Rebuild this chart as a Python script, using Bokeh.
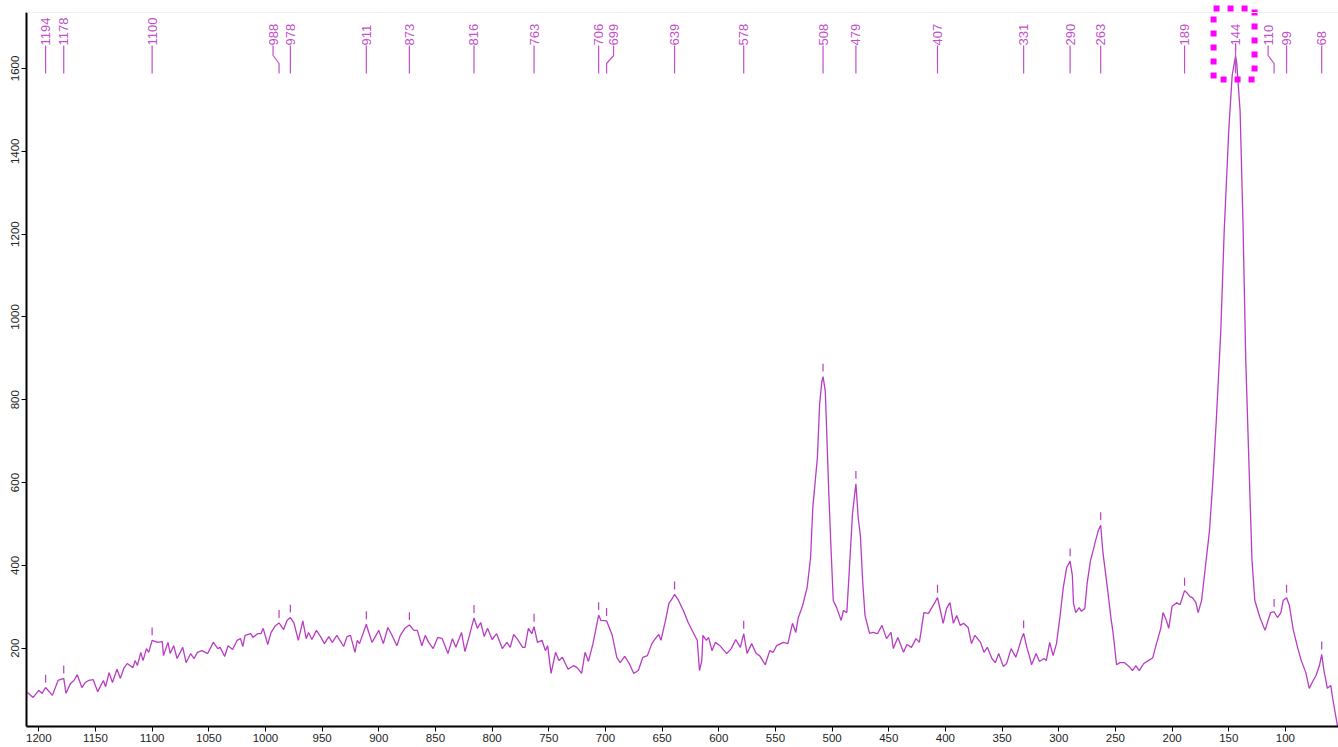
import numpy as np
from bokeh.plotting import figure
from bokeh.models import Range1d, FixedTicker, ColumnDataSource, Span
from bokeh.core.properties import value
from bokeh.embed import file_html
from bokeh.resources import INLINE

# Raman shift (cm-1) and intensity of the measured spectrum
shift = [
    1210, 1205, 1200, 1197, 1194, 1188, 1183, 1178, 1176, 1172, 1169, 1166, 1162, 1159, 1156, 1152,
    1148, 1143, 1141, 1138, 1135, 1131, 1128, 1125, 1122, 1117, 1115, 1113, 1110, 1108, 1105, 1103,
    1100, 1095, 1091, 1090, 1086, 1084, 1081, 1078, 1073, 1070, 1066, 1063, 1060, 1056, 1051, 1046,
    1042, 1040, 1036, 1033, 1029, 1025, 1022, 1020, 1018, 1013, 1011, 1007, 1004, 1002, 998, 995,
    991, 988, 984, 981, 978, 975, 971, 967, 964,
    962, 959, 955, 951, 948, 944, 941, 937, 931, 928, 925, 921, 919, 917, 911, 910, 906, 900, 896,
    892, 889, 884, 881, 877, 873, 869, 866, 862, 859, 856, 852, 848, 844, 839, 835, 832, 827, 824,
    820, 816, 813, 810, 807, 804, 800, 796, 791, 787, 784, 781, 778, 773, 771, 768, 765, 763, 760,
    756, 753, 751, 748, 744, 741, 738, 733, 728, 725, 721,
    718, 715, 711, 706, 704, 699, 694, 690, 687, 683, 679, 675, 671, 667, 663, 659, 656, 653, 651,
    647, 644, 641, 639, 636, 631, 627, 622, 619, 617, 615, 614, 611, 609, 606, 603, 599, 593, 589,
    585, 581, 578, 575, 571, 567, 564, 559, 555, 552, 549, 543, 539, 535, 532, 530, 526, 522, 519,
    517, 513, 511, 509, 508, 506, 505, 503, 501, 499, 496, 492, 490, 487, 485, 482, 479, 477, 475,
    473, 471, 467, 464, 460, 456, 452, 448, 446, 442, 437, 434, 430, 426, 423, 419, 415, 412, 409,
    407, 404, 402, 399, 396, 393, 390, 387, 384, 380, 377, 374, 369, 366, 363, 359, 356, 353, 349,
    346, 342, 338, 336, 333, 331, 328, 326, 324, 320, 317, 313, 311, 308, 305, 302, 299, 296, 293,
    290, 288, 287, 285, 282, 280, 277, 275, 272, 269, 268, 265, 263, 261, 257, 254, 252, 249, 246,
    242, 238, 235, 232, 229, 225, 221, 217, 215, 210, 208, 205, 203, 200, 196, 193, 189, 187, 184,
    182, 179, 177, 174, 171, 167, 164, 161, 157, 154, 150, 147, 144, 143, 140, 137.5, 135, 132,
    129.5, 127, 122.5, 118, 115, 113, 110, 107, 104, 102, 99, 96.5, 93, 89, 86, 82, 79, 75.5, 73,
    70, 68, 66, 63, 60, 58, 54,
]
intensity = [
    93, 81, 98, 91, 105, 86, 122, 127, 91, 115, 122, 136, 105, 117, 122, 124,
    95, 122, 107, 141, 117, 149, 127, 151, 163, 153, 170, 158, 190, 170, 199, 190,
    219, 214, 216, 182, 214, 187, 206, 175, 202, 165, 187, 175, 190, 194, 187, 214,
    199, 202, 180, 206, 197, 219, 223, 204, 231, 235, 226, 235, 235, 248, 209, 238,
    255, 261, 245, 267, 274, 262, 219, 266, 223,
    238, 221, 243, 226, 211, 228, 214, 231, 204, 228, 231, 190, 219, 211, 258, 248, 214, 243, 211,
    250, 235, 206, 231, 248, 256, 243, 243, 206, 231, 214, 199, 226, 223, 187, 223, 202, 238, 192,
    231, 273, 248, 262, 228, 248, 221, 235, 199, 214, 202, 233, 223, 202, 202, 248, 235, 252, 214,
    219, 194, 206, 139, 190, 170, 178, 149, 158, 153, 139,
    190, 168, 211, 280, 267, 266, 231, 178, 165, 180, 163, 139, 146, 178, 182, 211, 223, 233, 219,
    267, 308, 320, 330, 318, 289, 262, 235, 219, 146, 170, 231, 219, 226, 194, 214, 206, 187, 199,
    221, 202, 235, 187, 211, 187, 182, 160, 194, 190, 206, 214, 211, 260, 238, 272, 303, 347, 419,
    540, 660, 790, 845, 856, 820, 742, 580, 443, 315, 298, 267, 291, 286, 380, 525, 597, 516, 470,
    360, 280, 236, 238, 235, 255, 223, 238, 199, 226, 190, 209, 202, 223, 214, 286, 284, 298, 312,
    322, 285, 260, 296, 310, 260, 279, 255, 260, 250, 211, 231, 214, 190, 202, 175, 165, 187, 156,
    163, 199, 178, 194, 222, 236, 200, 182, 160, 187, 168, 175, 170, 214, 182, 211, 274, 347, 395,
    410, 375, 308, 286, 298, 289, 296, 356, 412, 443, 455, 485, 497, 430, 344, 274, 235, 160, 165,
    165, 156, 146, 158, 146, 163, 170, 177, 199, 248, 286, 267, 248, 301, 310, 305, 339, 334, 324,
    322, 310, 286, 315, 387, 484, 605, 750, 967, 1209, 1450, 1583, 1630, 1614, 1498, 1233, 895, 629,
    412, 315, 274, 243, 270, 286, 288, 274, 286, 315, 322, 303, 243, 199, 170, 141, 103, 122, 134,
    158, 185, 146, 103, 110, 74, 11,
]

# Picked peak positions (cm-1)
peaks = [1194, 1178, 1100, 988, 978, 911, 873, 816, 763, 706, 699, 639, 578,
         508, 479, 407, 331, 290, 263, 189, 144, 110, 99, 68]
peak_labels = [str(p) for p in peaks]

y_ticks = [200, 400, 600, 800, 1000, 1200, 1400, 1600]
x_ticks = list(range(100, 1201, 50))

CURVE = "#b83cc4"
LABEL = "#c24fc9"
FONT = "Liberation Sans"

# plot geometry: frame spans 26..1338 px horizontally, 0..726 px vertically
X_START, X_END = 1210.85, 53.17
Y_START, Y_END = 10.87, 1764.1
FRAME_L, FRAME_W, FRAME_H = 26, 1312, 726
kx = FRAME_W / (X_START - X_END)
ky = FRAME_H / (Y_END - Y_START)


def y_at(py):
    """data y for a screen row measured from the top of the frame"""
    return Y_END - py / ky


def dx(px):
    """data offset for a horizontal shift of px screen pixels"""
    return -px / kx


p = figure(width=1338, height=747,
           x_range=Range1d(X_START, X_END), y_range=Range1d(Y_START, Y_END),
           output_backend="svg", toolbar_location=None,
           min_border_left=FRAME_L, min_border_right=0,
           min_border_top=0, min_border_bottom=21)
p.background_fill_color = "white"
p.border_fill_color = "white"
p.outline_line_color = None
p.grid.visible = False

p.add_layout(Span(location=y_at(12), dimension="width", line_color="#f0f0f0", line_width=1))

w = np.array(shift, dtype=float)
v = np.array(intensity, dtype=float)
p.line(w, v, line_color=CURVE, line_width=1.3)

# small ticks above each picked peak
pk = np.array(peaks, dtype=float)
tops = []
for x in pk:
    near = v[np.abs(w - x) <= 2.5]
    tops.append(near.max() if near.size else np.interp(x, w[::-1], v[::-1]))
tops = np.array(tops)
p.segment(x0=pk, y0=tops + 12, x1=pk, y1=tops + 31, line_color=CURVE, line_width=1.2)

# labels along the top with leader lines
shift_px = {988: -6, 699: 7, 110: -6}
xs, ys, lx = [], [], []
for x in peaks:
    off = shift_px.get(x, 0)
    tx = x + dx(off)
    lx.append(tx)
    if off:
        xs.append([x, x, tx, tx])
        ys.append([y_at(73), y_at(63), y_at(55), y_at(45)])
    else:
        xs.append([x, x])
        ys.append([y_at(73), y_at(45)])
p.multi_line(xs, ys, line_color=LABEL, line_width=1.2)

src = ColumnDataSource(dict(x=lx, y=[y_at(45)] * len(lx), t=peak_labels))
p.text(x="x", y="y", text="t", source=src, angle=np.pi / 2,
       text_align="left", text_baseline="middle",
       text_color=LABEL, text_font=value(FONT), text_font_size="13px")

# dotted highlight around the strongest band
p.quad(left=[144 + dx(-22)], right=[144 + dx(19)], top=[y_at(8)], bottom=[y_at(79)],
       fill_alpha=0, line_color="#ff00ff", line_width=6, line_dash="6 8")

for ax in (p.xaxis[0], p.yaxis[0]):
    ax.axis_line_width = 2
    ax.axis_line_color = "black"
    ax.major_tick_line_color = "black"
    ax.major_tick_in = 0
    ax.minor_tick_line_color = None
    ax.major_label_text_font = FONT
    ax.major_label_text_font_size = "11.5px"
    ax.major_label_text_color = "#222222"
    ax.major_label_standoff = 2

p.yaxis[0].ticker = FixedTicker(ticks=y_ticks)
p.yaxis[0].major_label_orientation = "vertical"
p.yaxis[0].major_tick_out = 5
p.yaxis[0].bounds = (Y_START, y_at(12))
p.xaxis[0].ticker = FixedTicker(ticks=x_ticks)
p.xaxis[0].major_tick_out = 5

open("out.html", "w").write(file_html(p, INLINE))
